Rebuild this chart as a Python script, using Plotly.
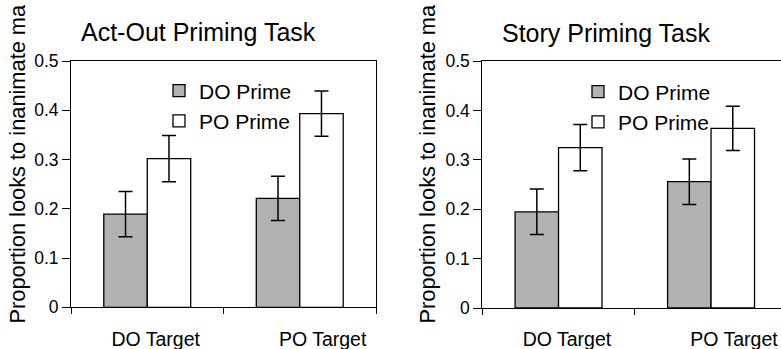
import plotly.graph_objects as go

# ---------------- data ----------------
categories = ["DO Target", "PO Target"]
series_names = ["DO Prime", "PO Prime"]

actout_do_prime = [0.189, 0.221]
actout_do_err = [0.046, 0.045]
actout_po_prime = [0.302, 0.393]
actout_po_err = [0.047, 0.046]

story_do_prime = [0.195, 0.256]
story_do_err = [0.046, 0.046]
story_po_prime = [0.325, 0.364]
story_po_err = [0.047, 0.045]

y_ticks = [0, 0.1, 0.2, 0.3, 0.4, 0.5]
y_tick_text = ["0", "0.1", "0.2", "0.3", "0.4", "0.5"]
titles = ["Act-Out Priming Task", "Story Priming Task"]
y_title = "Proportion looks to inanimate ma"  # as much as the original shows

# ---------------- style ----------------
W, H = 781, 349
FONT = "Arial, 'Liberation Sans', sans-serif"
GRAY = "#b2b2b2"
label_shift = [0.055, 0.15]  # category labels sit right of centre in the original
cat_pos = list(range(len(categories)))
label_pos = [p + s for p, s in zip(cat_pos, label_shift)]
bounds = [-0.5, 0.5, 1.5]


def px_x(p):
    return p / W


def px_y(p):
    return 1 - p / H


fig = go.Figure()

panels = [
    ("x", "y", "legend", actout_do_prime, actout_do_err, actout_po_prime, actout_po_err),
    ("x2", "y2", "legend2", story_do_prime, story_do_err, story_po_prime, story_po_err),
]
for xa, ya, lg, dov, doe, pov, poe in panels:
    for name, vals, errs, fill in [
        (series_names[0], dov, doe, GRAY),
        (series_names[1], pov, poe, "white"),
    ]:
        fig.add_trace(go.Bar(
            x=cat_pos, y=vals, name=name, xaxis=xa, yaxis=ya, legend=lg,
            marker=dict(color=fill, line=dict(color="black", width=1.3)),
            error_y=dict(type="data", array=errs, visible=True,
                         color="black", thickness=1.5, width=7),
        ))

common_x = dict(
    showline=True, linecolor="black", linewidth=1, mirror=True,
    tickmode="array", tickvals=label_pos, ticktext=categories, ticks="",
    tickfont=dict(family=FONT, size=19.5, color="black"),
    ticklabelstandoff=14, automargin=False,
    minor=dict(tickmode="array", tickvals=bounds, ticks="outside",
               ticklen=6, tickwidth=1, tickcolor="black"),
    showgrid=False, zeroline=False, fixedrange=True,
)
common_y = dict(
    range=[0, 0.5], showline=True, linecolor="black", linewidth=1,
    tickmode="array", tickvals=y_ticks, ticktext=y_tick_text,
    ticks="outside", ticklen=8, tickwidth=1, tickcolor="black",
    tickfont=dict(family=FONT, size=17.5, color="black"),
    showgrid=False, zeroline=False, automargin=False,
)

fig.update_layout(
    width=W, height=H,
    margin=dict(l=0, r=0, t=0, b=0, autoexpand=False),
    paper_bgcolor="white", plot_bgcolor="white",
    barmode="group", bargap=0.43, bargroupgap=0,
    font=dict(family=FONT, color="black"),
    xaxis=dict(domain=[px_x(71), px_x(376)], range=[-0.5, 1.5], anchor="y", **common_x),
    yaxis=dict(domain=[px_y(307.3), px_y(61)], anchor="x", mirror=True, **common_y),
    xaxis2=dict(domain=[px_x(482.3), 1.0],
                range=[-0.5, -0.5 + (W - 482.3) / 152.5], anchor="y2", **common_x),
    yaxis2=dict(domain=[px_y(308), px_y(61.3)], anchor="x2", mirror=False, **common_y),
    legend=dict(x=px_x(159), y=px_y(70.5), xanchor="left", yanchor="top",
                bgcolor="rgba(0,0,0,0)", font=dict(family=FONT, size=21, color="black"),
                tracegroupgap=0),
    legend2=dict(x=px_x(578), y=px_y(71.5), xanchor="left", yanchor="top",
                 bgcolor="rgba(0,0,0,0)", font=dict(family=FONT, size=21, color="black"),
                 tracegroupgap=0),
    showlegend=True,
)

# panel titles
fig.add_annotation(text=titles[0], xref="paper", yref="paper", x=px_x(79), y=px_y(31.7),
                   xanchor="left", yanchor="middle", showarrow=False,
                   font=dict(family=FONT, size=25, color="black"))
fig.add_annotation(text=titles[1], xref="paper", yref="paper", x=px_x(500), y=px_y(33.3),
                   xanchor="left", yanchor="middle", showarrow=False,
                   font=dict(family=FONT, size=25, color="black"))

# rotated y-axis titles
for xc in [16.5, 426.5]:
    fig.add_annotation(text=y_title, xref="paper", yref="paper", x=px_x(xc), y=px_y(326),
                       xanchor="center", yanchor="bottom", textangle=-90, showarrow=False,
                       font=dict(family=FONT, size=21.8, color="black"))

fig.write_html("out.html")
